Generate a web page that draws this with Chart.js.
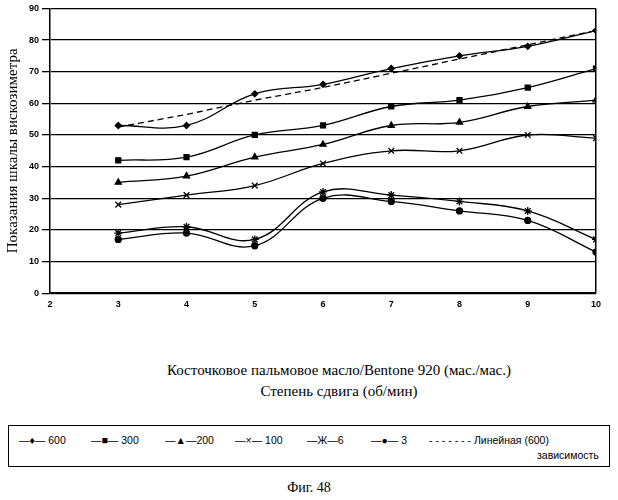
<!DOCTYPE html><html><head><meta charset="utf-8">
<script src="https://cdn.jsdelivr.net/npm/chart.js@4"></script>
<style>body{margin:0;background:#fff;font-family:"Liberation Serif",serif;color:#000}
#w{position:relative;width:618px;height:500px}
#c{position:absolute;left:0;top:0}
.t{position:absolute;width:618px;text-align:center;font-size:15px;left:30px}
#leg{position:absolute;left:8px;top:425px;width:602px;height:42px;border:1px solid #000;box-sizing:border-box;font-family:"Liberation Sans",sans-serif;font-size:10.5px}
#leg span{position:absolute;top:8px;white-space:nowrap}
</style></head><body><div id="w"><canvas id="c" width="618" height="316"></canvas>
<div class="t" style="top:362px">Косточковое пальмовое масло/Bentone 920 (мас./мас.)</div>
<div class="t" style="top:383px">Степень сдвига (об/мин)</div>
<div id="leg">
<span style="left:10px">—♦— 600</span><span style="left:82px">—■— 300</span><span style="left:156px">—▲—200</span><span style="left:226px">—×— 100</span><span style="left:298px">—Ж—6</span><span style="left:362px">—●— 3</span><span style="left:420px">- - - - - - - Линейная (600)</span><span style="left:528px;top:23px">зависимость</span></div>
<div class="t" style="top:480px;left:0;font-size:14px">Фиг. 48</div></div>
<script>
const xs=[3,4,5,6,7,8,9,10];
const s600=[53,53,63,66,71,75,78,83];
const s300=[42,43,50,53,59,61,65,71];
const s200=[35,37,43,47,53,54,59,61];
const s100=[28,31,34,41,45,45,50,49];
const s6=[19,21,17,32,31,29,26,17];
const s3=[17,19,15,30,29,26,23,13];
const lin=[52.5,56.5,61,65,69.5,74,78.5,83];
const ticksX=[2,3,4,5,6,7,8,9,10];
const mk=(d,ps,r,dash)=>({data:xs.map((x,i)=>({x,y:d[i]})),borderColor:'#000',backgroundColor:'#000',borderWidth:1.3,pointStyle:ps,pointRadius:r,tension:dash?0:0.4,borderDash:dash||[]});
new Chart(document.getElementById('c'),{type:'line',data:{datasets:[
mk(s600,'rectRot',3),mk(s300,'rect',3.5),mk(s200,'triangle',3.5),mk(s100,'crossRot',4),mk(s6,'star',4),mk(s3,'circle',3),mk(lin,'circle',0,[6,4])]},
options:{animation:false,responsive:false,plugins:{legend:{display:false}},
layout:{padding:{left:0,right:22,top:4,bottom:0}},
scales:{x:{type:'linear',min:2,max:10,afterBuildTicks:a=>{a.ticks=ticksX.map(v=>({value:v}))},grid:{color:c=>c.tick&&c.tick.value===10?'#000':'rgba(0,0,0,0)',lineWidth:1.5,drawTicks:false},border:{color:'#000',width:1.5},ticks:{padding:6,color:'#000',font:{size:9,weight:'bold',family:'Liberation Sans'}}},
y:{min:0,max:90,ticks:{stepSize:10,color:'#000',font:{size:9,weight:'bold',family:'Liberation Sans'}},grid:{color:'#000',lineWidth:1.3},border:{color:'#000',width:1.5},
title:{display:true,text:'Показания шкалы вискозиметра',color:'#000',font:{size:15,family:'Liberation Serif'}}}}}});
</script></body></html>
